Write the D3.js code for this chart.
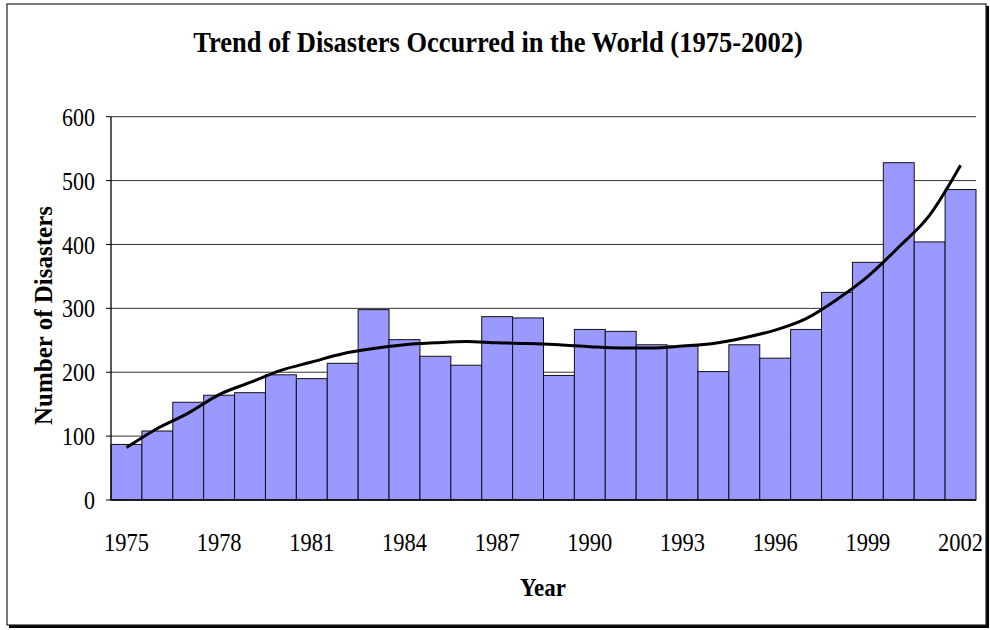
<!DOCTYPE html>
<html><head><meta charset="utf-8">
<script src="https://cdn.jsdelivr.net/npm/d3@7/dist/d3.min.js"></script>
<style>body{margin:0;background:#fff}svg{display:block}text{font-family:"Liberation Serif","Times New Roman",serif}</style>
</head><body>
<svg id="c" width="990" height="630"></svg>
<script>
const years = d3.range(1975, 2003);
const disasters = [87,108,153,164,168,196,190,214,298,251,225,211,287,285,195,267,264,243,241,201,243,222,267,325,372,528,404,486];
const trend = [82,112,136,165,184,203,216,229,237,243,246,248,246,245,243,240,238,238,241,245,254,266,284,314,350,396,446,524];
const yTicks = [0,100,200,300,400,500,600];
const xLabels = [1975,1978,1981,1984,1987,1990,1993,1996,1999,2002];

const svg = d3.select("#c");
// outer frame with shadow
svg.append("rect").attr("x",9).attr("y",6).attr("width",980).attr("height",622).attr("fill","#000");
svg.append("rect").attr("x",7).attr("y",4).attr("width",979).attr("height",621).attr("fill","#fff").attr("stroke","#222").attr("stroke-width",1.2);

const x = d3.scaleBand().domain(years).range([111,976]).padding(0);
const y = d3.scaleLinear().domain([0,600]).range([500,116.7]);

// gridlines
svg.append("g").selectAll("line").data(yTicks.filter(d=>d>0)).join("line")
  .attr("x1",111).attr("x2",976).attr("y1",d=>y(d)).attr("y2",d=>y(d))
  .attr("stroke","#333").attr("stroke-width",1);

// bars
svg.append("g").selectAll("rect").data(years).join("rect")
  .attr("x",d=>x(d)).attr("width",x.bandwidth())
  .attr("y",(d,i)=>y(disasters[i])).attr("height",(d,i)=>y(0)-y(disasters[i]))
  .attr("fill","#9999FF").attr("stroke","#111").attr("stroke-width",1);

// axes lines
svg.append("line").attr("x1",111).attr("x2",111).attr("y1",y(600)).attr("y2",y(0)).attr("stroke","#000").attr("stroke-width",1.3);
svg.append("line").attr("x1",111).attr("x2",976).attr("y1",y(0)).attr("y2",y(0)).attr("stroke","#000").attr("stroke-width",1.3);
svg.append("g").selectAll("line").data(yTicks).join("line")
  .attr("x1",106).attr("x2",111).attr("y1",d=>y(d)).attr("y2",d=>y(d)).attr("stroke","#000");

// trend line
const line = d3.line().x((d,i)=>x(years[i])+x.bandwidth()/2).y(d=>y(d)).curve(d3.curveMonotoneX);
svg.append("path").datum(trend).attr("d",line).attr("fill","none").attr("stroke","#000").attr("stroke-width",3);

// y tick labels
svg.append("g").selectAll("text").data(yTicks).join("text")
  .attr("transform",d=>`translate(95,${y(d)}) scale(1,1.18)`).attr("dy","0.35em").attr("text-anchor","end")
  .attr("font-size",22).text(d=>d);

// x tick labels
svg.append("g").selectAll("text").data(xLabels).join("text")
  .attr("transform",d=>`translate(${x(d)+x.bandwidth()/2},551) scale(1,1.15)`).attr("text-anchor","middle")
  .attr("font-size",22.5).text(d=>d);

// titles
svg.append("text").attr("transform","translate(498,52) scale(1,1.14)").attr("text-anchor","middle")
  .attr("font-size",26.5).attr("font-weight","bold").text("Trend of Disasters Occurred in the World (1975-2002)");
svg.append("text").attr("transform","translate(543,596) scale(1,1.12)").attr("text-anchor","middle")
  .attr("font-size",23).attr("font-weight","bold").text("Year");
svg.append("text").attr("transform","translate(52,315.5) rotate(-90)").attr("text-anchor","middle")
  .attr("font-size",25).attr("font-weight","bold").text("Number of Disasters");
</script>
</body></html>
